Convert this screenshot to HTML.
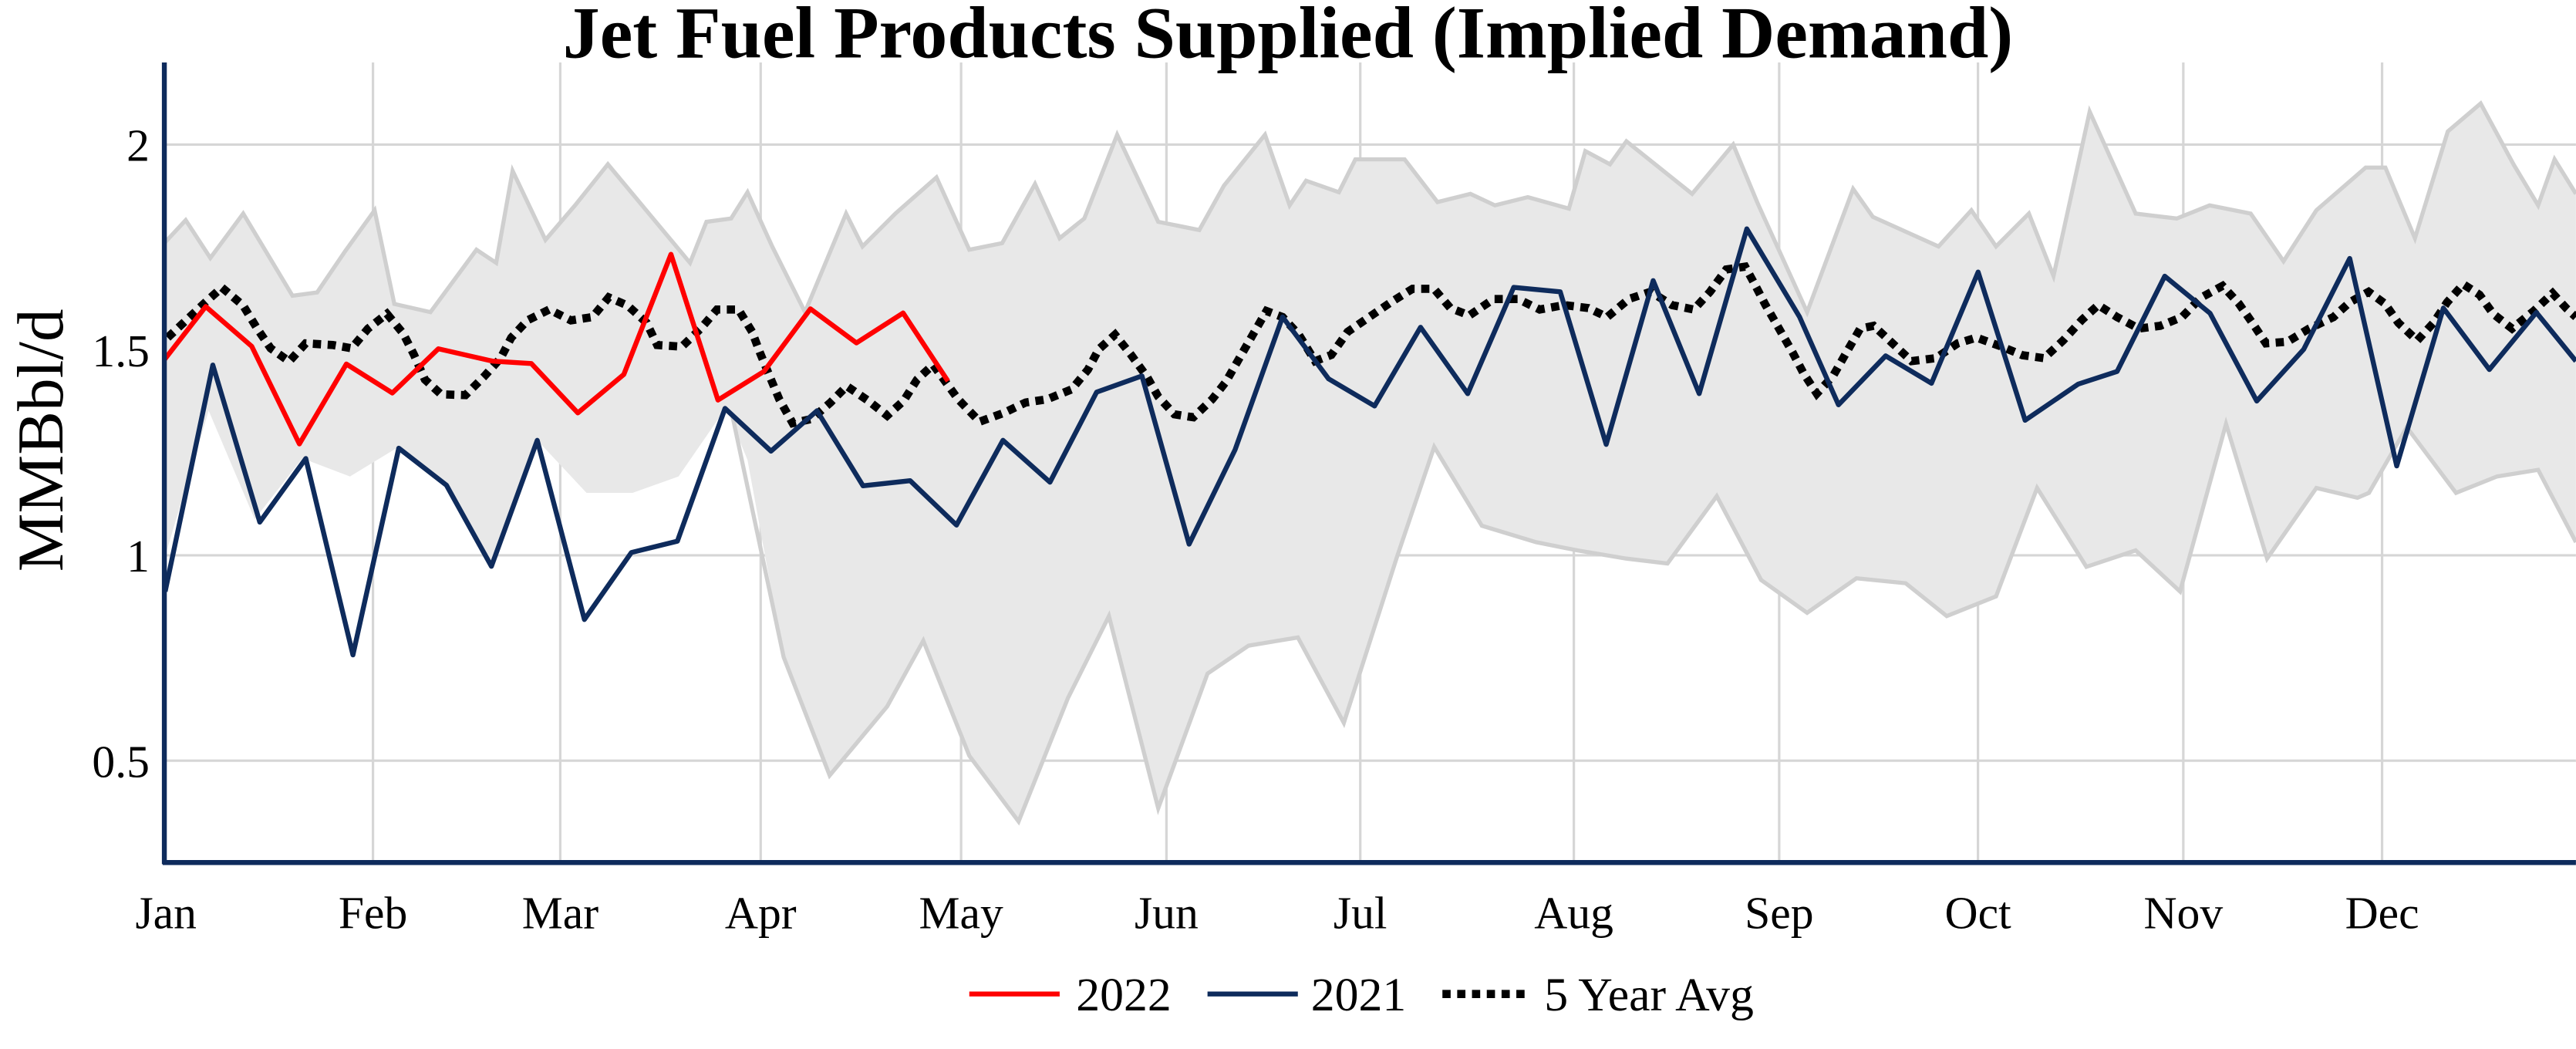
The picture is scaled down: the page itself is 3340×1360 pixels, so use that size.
<!DOCTYPE html>
<html><head><meta charset="utf-8"><style>html,body{margin:0;padding:0;background:#fff}svg{display:block}</style></head>
<body>
<svg width="3340" height="1360" viewBox="0 0 1568 638.5" xmlns="http://www.w3.org/2000/svg" font-family="'Liberation Serif', serif">
<rect width="1568" height="638.5" fill="#fff"/>
<g stroke="#d6d6d6" stroke-width="1.5">
<line x1="100" y1="88" x2="1568" y2="88"/><line x1="100" y1="213" x2="1568" y2="213"/><line x1="100" y1="338" x2="1568" y2="338"/><line x1="100" y1="463" x2="1568" y2="463"/>
<line x1="227" y1="38" x2="227" y2="525"/><line x1="341" y1="38" x2="341" y2="525"/><line x1="463" y1="38" x2="463" y2="525"/><line x1="585" y1="38" x2="585" y2="525"/><line x1="710" y1="38" x2="710" y2="525"/><line x1="828" y1="38" x2="828" y2="525"/><line x1="958" y1="38" x2="958" y2="525"/><line x1="1083" y1="38" x2="1083" y2="525"/><line x1="1204" y1="38" x2="1204" y2="525"/><line x1="1329" y1="38" x2="1329" y2="525"/><line x1="1450" y1="38" x2="1450" y2="525"/>
</g>
<polygon fill="#e8e8e8" points="100,148 113,134 128,157 148,130 178,180 193,178 210,153 228,128 240,185 262,190 290,152 302,160 312,104 332,146 350,125 370,100 395,130 420,160 430,135 445,133 455,117 470,150 490,190 515,130 525,150 545,130 570,108 590,152 610,148 630,112 645,145 660,133 680,82 705,135 730,140 745,113 770,82 785,125 795,110 815,117 825,97 855,97 875,123 895,118 910,125 930,120 955,127 965,92 980,100 990,86 1030,118 1055,88 1070,124 1100,190 1128,115 1140,132 1180,150 1200,128 1215,150 1235,130 1250,168 1272,68 1300,130 1325,133 1345,125 1370,130 1390,159 1410,128 1440,102 1452,102 1470,145 1490,80 1510,63 1530,100 1545,125 1555,97 1568,118 1568,330 1545,286 1520,290 1495,300 1465,260 1442,300 1435,303 1410,297 1380,340 1355,258 1327,360 1300,335 1270,345 1240,297 1215,363 1185,375 1160,355 1130,352 1100,373 1072,353 1045,302 1015,343 990,340 960,335 935,330 902,320 873,272 850,340 818,440 790,388 760,393 735,410 705,492 675,375 650,425 620,500 590,460 562,390 540,430 505,472 477,400 455,280 442,248 413,290 385,300 357,300 328,269 299,343 270,295 241,273 213,290 184,279 155,316 127,250 100,340"/>
<g fill="none" stroke="#cfcfcf" stroke-width="2.5">
<polyline points="100,148 113,134 128,157 148,130 178,180 193,178 210,153 228,128 240,185 262,190 290,152 302,160 312,104 332,146 350,125 370,100 395,130 420,160 430,135 445,133 455,117 470,150 490,190 515,130 525,150 545,130 570,108 590,152 610,148 630,112 645,145 660,133 680,82 705,135 730,140 745,113 770,82 785,125 795,110 815,117 825,97 855,97 875,123 895,118 910,125 930,120 955,127 965,92 980,100 990,86 1030,118 1055,88 1070,124 1100,190 1128,115 1140,132 1180,150 1200,128 1215,150 1235,130 1250,168 1272,68 1300,130 1325,133 1345,125 1370,130 1390,159 1410,128 1440,102 1452,102 1470,145 1490,80 1510,63 1530,100 1545,125 1555,97 1568,118"/>
<polyline points="446,254 477,400 505,472 540,430 562,390 590,460 620,500 650,425 675,375 705,492 735,410 760,393 790,388 818,440 850,340 873,272 902,320 935,330 960,335 990,340 1015,343 1045,302 1072,353 1100,373 1130,352 1160,355 1185,375 1215,363 1240,297 1270,345 1300,335 1327,360 1355,258 1380,340 1410,297 1435,303 1442,300 1465,260 1495,300 1520,290 1545,286 1568,330"/>
</g>
<polyline fill="none" stroke="#000" stroke-width="5" stroke-dasharray="5,4" points="102,205.5 125,184 135,175 148,186 156.5,200 164.7,212 176,220 186,209 202.6,210 214,212 224,200 235.5,191 245.4,203 252,216 258.6,231 268.4,240 283.3,240.5 294.8,229 304.7,218 311.2,205.5 321,195 334.3,188.4 347.5,195 360.6,193 370.5,181 382,186 393.6,196.5 400,210 415,211 426.5,200 436.4,188.4 449.5,188.4 457.8,202 462.7,215 469.3,231 474.3,243 482.5,257.6 494,255 505.5,245 515.4,235 528.6,244 540,253 550,244 558.2,231 568,222 583.2,243 596.3,256.7 611,251.3 624.3,245 637.5,243 652.3,237 662.2,225 668.8,212.6 678.7,203.7 688.5,216 698.4,229.7 705,241.4 714.9,252.2 726.4,254 737.9,243 746.2,232.4 754.4,218 762.6,203.7 770.9,189.3 780.7,193 790.6,203.7 800.5,219.8 810.4,216 820.3,202 833.4,193 846.6,184 859.8,175.8 872.9,175.8 882.8,187.5 894.4,192 909.2,182 924,182 937.2,188.4 952,185.7 966.8,187.5 978.3,193 991.5,182 1004.7,177.6 1017.8,185.7 1031,188.4 1040.9,177.6 1050.8,164 1062.3,162.3 1068.1,173 1074.7,185.7 1082.9,200 1091.1,214.4 1097.7,227 1105.9,239.6 1115.8,228.8 1124,214.4 1132.3,200 1140.5,198.3 1152,209 1163.6,219.8 1178.4,218 1191.6,209 1203.1,205.5 1217.9,210.8 1231.1,216.2 1244.2,218 1255.8,207.3 1267.3,194.7 1277.2,185.7 1288.7,193 1301.9,200 1315,198.3 1328.2,193 1339.7,181.2 1352.9,174 1362.8,184.8 1371,196.5 1379.3,209 1392.4,208 1405.6,200 1420.4,193 1430.3,184 1441.8,177.6 1451.7,184.8 1459.9,196.5 1471.4,207.3 1481.3,196.5 1489.6,184 1499.4,173 1509.3,179.4 1517.6,191 1529.1,200 1542.3,189.3 1553.8,178.5 1562,187.5 1568,193"/>
<polyline fill="none" stroke="#0e2b5c" stroke-width="3" stroke-linejoin="round" points="100.5,360 129.5,222.2 158.1,317.8 186.1,279.1 214.8,398.6 242.7,272.8 271.7,295.3 299.1,344.7 327,268 355.7,377.1 384.3,336.3 412.3,329.4 441.3,248.6 469.3,274.6 497.3,250 525.3,295.7 554,292.6 582.2,319.6 610.5,268 639.1,293.5 667.5,238.7 695.1,228.8 723.8,331.2 751.8,273.7 780.7,192.9 808.7,230.6 836.7,247.1 864.7,199.2 893.4,239.6 921.4,174.9 949.7,177.6 977.7,270.5 1006.3,170.8 1034.3,239.6 1063.3,139.3 1095.4,192.9 1119.1,246.4 1147.8,216.6 1175.7,233.3 1204.1,165.6 1232.7,255.8 1265,233.8 1288.7,226.1 1317.7,168.1 1345.3,190.7 1373.7,244.1 1402.3,212.6 1430.3,157.3 1458.9,283.6 1487.3,187.5 1515.3,224.9 1543.9,190.2 1568,219.8"/>
<polyline fill="none" stroke="#ff0000" stroke-width="3" stroke-linejoin="round" points="100,219 125.2,186.6 153.2,210.8 182.2,270.2 210.8,221.6 238.8,239.2 266.8,212.3 299.7,219.8 323.4,221.3 351.7,251.3 379.7,227.9 408.4,154.8 437,243.5 465,226.1 493.3,188 521.3,208.7 549.7,190.5 577,232"/>
<line x1="100" y1="38" x2="100" y2="526" stroke="#0e2b5c" stroke-width="3"/>
<line x1="99" y1="525" x2="1568" y2="525" stroke="#0e2b5c" stroke-width="3"/>
<g font-size="28" fill="#000" text-anchor="end">
<text x="91" y="98">2</text><text x="91" y="223">1.5</text><text x="91" y="348">1</text><text x="91" y="473">0.5</text>
</g>
<g font-size="28" fill="#000" text-anchor="middle">
<text x="101" y="565">Jan</text><text x="227" y="565">Feb</text><text x="341" y="565">Mar</text><text x="463" y="565">Apr</text><text x="585" y="565">May</text><text x="710" y="565">Jun</text><text x="828" y="565">Jul</text><text x="958" y="565">Aug</text><text x="1083" y="565">Sep</text><text x="1204" y="565">Oct</text><text x="1329" y="565">Nov</text><text x="1450" y="565">Dec</text>
</g>
<text x="784" y="35" font-size="45" font-weight="bold" text-anchor="middle">Jet Fuel Products Supplied (Implied Demand)</text>
<text transform="translate(38,268) rotate(-90)" font-size="40" text-anchor="middle">MMBbl/d</text>
<g font-size="29">
<line x1="590" y1="605" x2="645" y2="605" stroke="#ff0000" stroke-width="3"/><text x="655" y="615">2022</text>
<line x1="735" y1="605" x2="790" y2="605" stroke="#0e2b5c" stroke-width="3"/><text x="798" y="615">2021</text>
<line x1="878" y1="605" x2="932" y2="605" stroke="#000" stroke-width="5" stroke-dasharray="5,4"/><text x="940" y="615">5 Year Avg</text>
</g>
</svg>
</body></html>
